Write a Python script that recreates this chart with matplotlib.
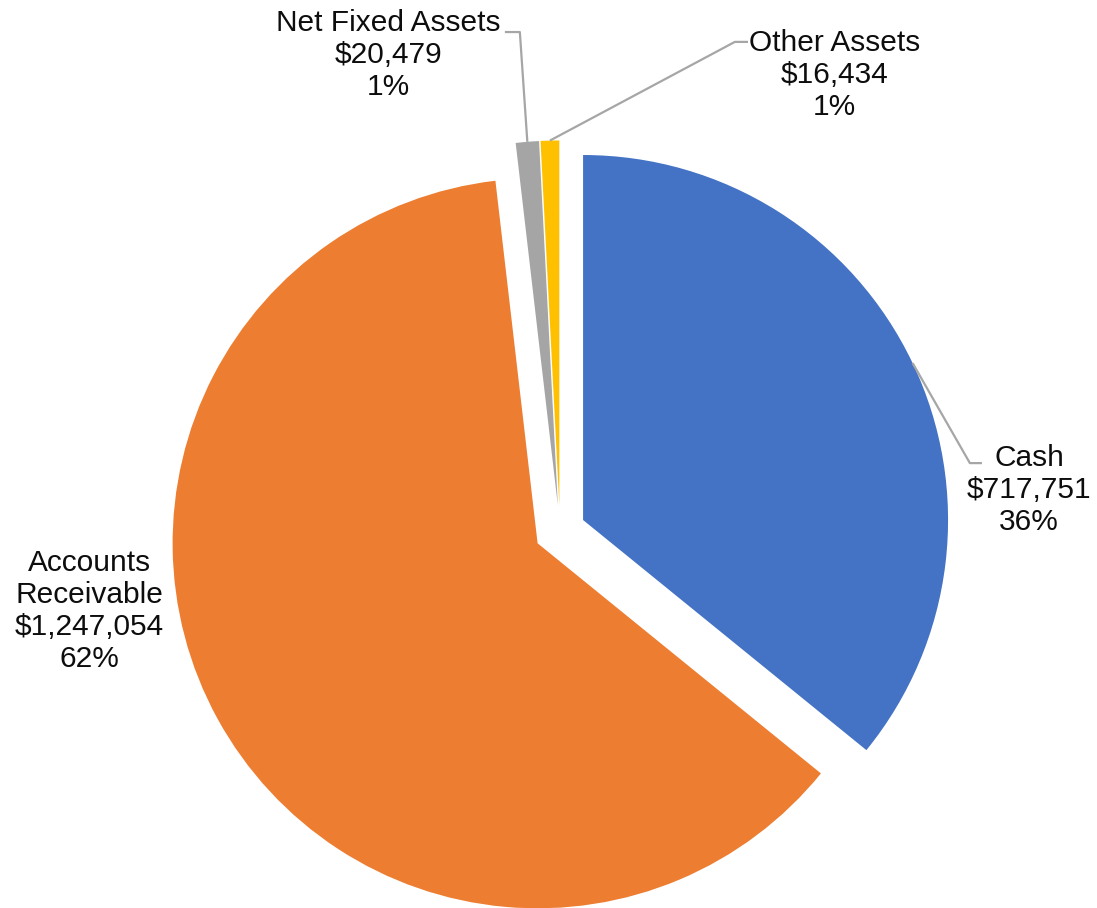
import numpy as np
import matplotlib.pyplot as plt

categories = ["Cash", "Accounts\nReceivable", "Net Fixed Assets", "Other Assets"]
values = [717751, 1247054, 20479, 16434]
colors = ["#4472C4", "#ED7D31", "#A5A5A5", "#FFC000"]

plt.rcParams['font.family'] = ['Liberation Sans', 'DejaVu Sans']

fig = plt.figure(figsize=(10.97, 9.08), dpi=100)
ax = fig.add_axes([0, 0, 1, 1])

explode = 0.07
wedges, _ = ax.pie(values, colors=colors, startangle=90, counterclock=False,
                   explode=[explode] * len(values), radius=1.0)

total = sum(values)
labels = [f"{c}\n${v:,.0f}\n{v / total:.0%}" for c, v in zip(categories, values)]

# label centre, leader elbow, leader end (data units, radius = 1)
layout = [
    ((1.285, 0.112), (1.123, 0.186), (1.156, 0.186)),
    ((-1.290, -0.219), None, None),
    ((-0.471, 1.304), (-0.110, 1.367), (-0.151, 1.367)),
    ((0.753, 1.249), (0.479, 1.340), (0.515, 1.340)),
]

for w, lab, (pos, elbow, end) in zip(wedges, labels, layout):
    mid = np.deg2rad((w.theta1 + w.theta2) / 2)
    r = 1.0 + explode
    start = (r * np.cos(mid), r * np.sin(mid))
    if elbow is not None:
        ax.plot([start[0], elbow[0], end[0]], [start[1], elbow[1], end[1]],
                color="#A6A6A6", lw=1.6, solid_capstyle="butt", zorder=3)
    ax.text(pos[0], pos[1], lab, ha="center", va="center", fontsize=21.5,
            linespacing=1.18, color="#0d0d0d")

ax.set_xlim(-560 / 365, (1097 - 560) / 365)
ax.set_ylim(-377 / 365, 531 / 365)
ax.set_aspect("equal")
ax.axis("off")

fig.savefig("out.png", dpi=100)
